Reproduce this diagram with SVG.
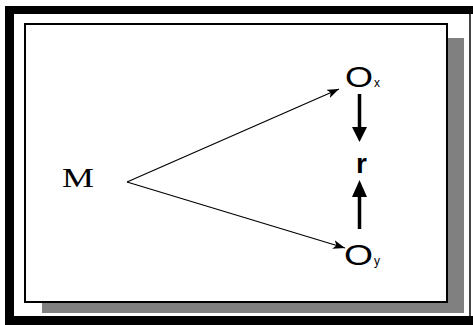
<svg xmlns="http://www.w3.org/2000/svg" width="473" height="325" viewBox="0 0 473 325">
  <style>
    .serif { font-family: "Liberation Serif", "Times New Roman", serif; fill: #000; }
    .sans { font-family: "Liberation Sans", Arial, sans-serif; fill: #000; }
    .thin { stroke: #000; stroke-width: 1.2; fill: none; }
    .thick { stroke: #000; stroke-width: 3.5; fill: none; }
  </style>
  <defs>
    <marker id="head-small" viewBox="0 0 12 9" refX="12" refY="4.5" markerWidth="12" markerHeight="9" markerUnits="userSpaceOnUse" orient="auto">
      <path d="M0,0 L12,4.5 L0,9 L3,4.5 Z" fill="#000"/>
    </marker>
  </defs>
  <rect width="473" height="325" fill="#fff"/>

  <!-- outer frame -->
  <g id="frame">
    <rect x="5" y="6" width="9" height="319" fill="#000"/>
    <rect x="5" y="6" width="468" height="8" fill="#000"/>
    <rect x="5" y="316" width="468" height="9" fill="#000"/>
    <rect x="469" y="14" width="2" height="302" fill="#444"/>
  </g>

  <!-- panel with drop shadow -->
  <g id="panel">
    <rect x="42" y="38" width="422" height="275" fill="#808080"/>
    <rect x="25" y="24" width="422" height="278" fill="#fff" stroke="#000" stroke-width="2"/>
  </g>

  <g id="connectors">
    <line class="thin" x1="127" y1="182" x2="339" y2="89" marker-end="url(#head-small)"/>
    <line class="thin" x1="127" y1="182" x2="345" y2="248" marker-end="url(#head-small)"/>
    <line class="thick" x1="359.5" y1="94" x2="359.5" y2="128"/>
    <path d="M352,127 L367,127 L359.5,142 Z" fill="#000"/>
    <line class="thick" x1="359.5" y1="229" x2="359.5" y2="196"/>
    <path d="M352,197 L367,197 L359.5,180 Z" fill="#000"/>
  </g>

  <g id="node-m">
    <text class="serif" x="62" y="187" font-size="28" textLength="32" lengthAdjust="spacingAndGlyphs">M</text>
  </g>
  <g id="node-ox">
    <text class="sans" x="345" y="87" font-size="30" textLength="28" lengthAdjust="spacingAndGlyphs">O</text>
    <text class="sans" x="374" y="87" font-size="12">x</text>
  </g>
  <g id="node-r">
    <text class="sans" x="356" y="173" font-size="28" font-weight="bold">r</text>
  </g>
  <g id="node-oy">
    <text class="sans" x="344" y="265" font-size="30" textLength="29" lengthAdjust="spacingAndGlyphs">O</text>
    <text class="sans" x="374" y="265" font-size="12">y</text>
  </g>
</svg>
